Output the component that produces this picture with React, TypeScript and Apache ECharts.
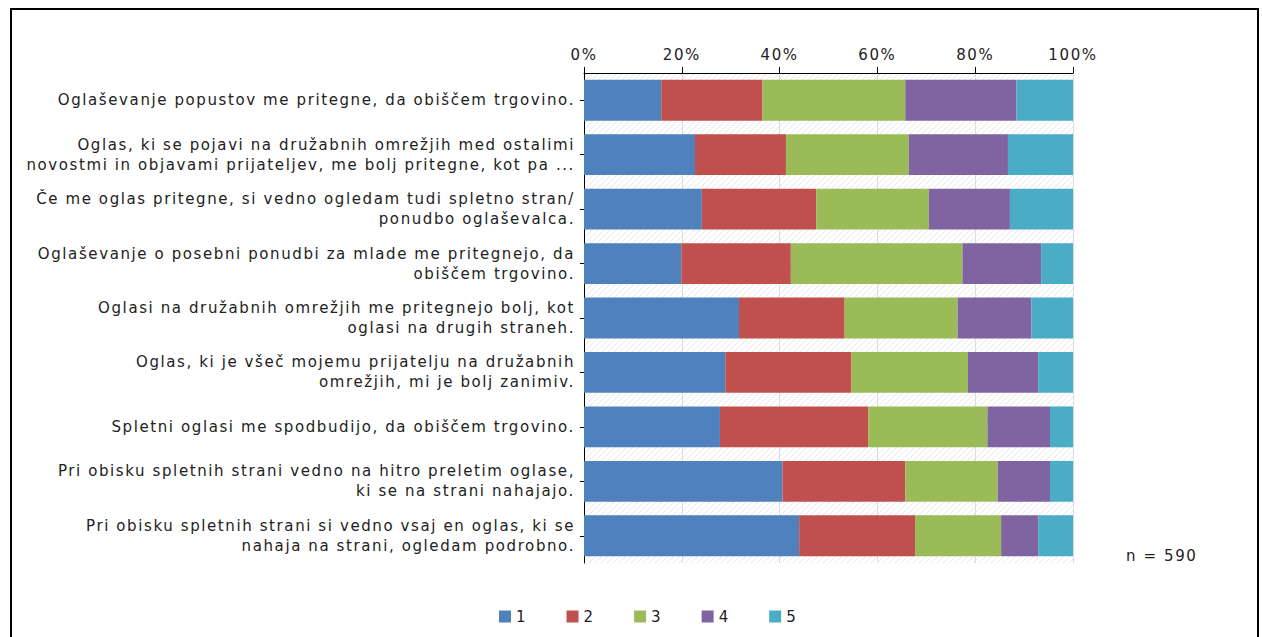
import React, { useEffect, useRef } from "react";
import * as echarts from "echarts";

const categories = [
  "Oglaševanje popustov me pritegne, da obiščem trgovino.",
  "Oglas, ki se pojavi na družabnih omrežjih med ostalimi\nnovostmi in objavami prijateljev, me bolj pritegne, kot pa ...",
  "Če me oglas pritegne, si vedno ogledam tudi spletno stran/\nponudbo oglaševalca.",
  "Oglaševanje o posebni ponudbi za mlade me pritegnejo, da\nobiščem trgovino.",
  "Oglasi na družabnih omrežjih me pritegnejo bolj, kot\noglasi na drugih straneh.",
  "Oglas, ki je všeč mojemu prijatelju na družabnih\nomrežjih, mi je bolj zanimiv.",
  "Spletni oglasi me spodbudijo, da obiščem trgovino.",
  "Pri obisku spletnih strani vedno na hitro preletim oglase,\nki se na strani nahajajo.",
  "Pri obisku spletnih strani si vedno vsaj en oglas, ki se\nnahaja na strani, ogledam podrobno.",
];

const seriesNames = ["1", "2", "3", "4", "5"];
const s1 = [15.8, 22.7, 24.1, 19.9, 31.7, 28.9, 27.8, 40.6, 44.0];
const s2 = [20.7, 18.6, 23.4, 22.4, 21.6, 25.8, 30.3, 25.1, 23.7];
const s3 = [29.2, 25.1, 23.0, 35.1, 23.1, 23.8, 24.4, 18.9, 17.6];
const s4 = [22.7, 20.3, 16.6, 16.1, 15.1, 14.4, 12.8, 10.7, 7.6];
const s5 = [11.6, 13.3, 12.9, 6.5, 8.5, 7.1, 4.7, 4.7, 7.1];
const seriesValues = [s1, s2, s3, s4, s5];
const colors = ["#4F81BD", "#C0504D", "#9BBB59", "#8064A2", "#4BACC6"];
const xTicks = { min: 0, max: 100, interval: 20 };
const noteText = "n = 590";

const FONT = "DejaVu Sans";

export default function App() {
  const ref = useRef<HTMLDivElement>(null);
  useEffect(() => {
    if (!ref.current) return;
    const chart = echarts.init(ref.current, undefined, { renderer: "svg" });
    const hatchSvg =
      "<svg xmlns='http://www.w3.org/2000/svg' width='6' height='6'><rect width='6' height='6' fill='#ffffff'/><path d='M-1,1 L1,-1 M0,6 L6,0 M5,7 L7,5' stroke='#e6e6e6' stroke-width='1'/></svg>";
    const hatch = "data:image/svg+xml;charset=utf-8," + encodeURIComponent(hatchSvg);
    chart.setOption({
      animation: false,
      textStyle: { fontFamily: FONT },
      grid: {
        left: 584,
        right: 189,
        top: 73,
        height: 490,
        show: true,
        backgroundColor: { image: hatch, repeat: "repeat" } as any,
        borderColor: "#d0d0d0",
        borderWidth: 0,
      },
      legend: {
        data: seriesNames,
        left: 494,
        top: 604,
        itemWidth: 12,
        itemHeight: 12,
        itemGap: 41,
        icon: "rect",
        textStyle: { fontFamily: FONT, fontSize: 15, color: "#222" },
      },
      xAxis: {
        type: "value",
        position: "top",
        min: xTicks.min,
        max: xTicks.max,
        interval: xTicks.interval,
        axisLine: { show: true, lineStyle: { color: "#000", width: 1 } },
        axisTick: { show: true, length: 6, lineStyle: { color: "#000" } },
        axisLabel: {
          formatter: "{value}%",
          fontFamily: FONT,
          fontSize: 15,
          color: "#222",
          margin: 11,
        },
        splitLine: { show: true, lineStyle: { color: "#dcdcdc", width: 1 } },
      },
      yAxis: {
        type: "category",
        inverse: true,
        data: categories,
        axisLine: { show: true, lineStyle: { color: "#000", width: 1 } },
        axisTick: { show: true, length: 4, alignWithLabel: true, lineStyle: { color: "#000" } },
        axisLabel: {
          fontFamily: FONT,
          fontSize: 15,
          color: "#222",
          lineHeight: 20,
          margin: 9,
          align: "right",
        },
      },
      series: seriesNames.map((name, i) => ({
        name,
        type: "bar",
        stack: "total",
        barWidth: "75%",
        data: seriesValues[i],
        itemStyle: { color: colors[i] },
      })),
      graphic: [
        {
          type: "rect",
          shape: { x: 11, y: 9, width: 1247, height: 640 },
          style: { fill: "none", stroke: "#000", lineWidth: 2 },
          silent: true,
        },
        {
          type: "text",
          x: 1126,
          y: 556,
          style: {
            text: noteText,
            fontFamily: FONT,
            fontSize: 15,
            fill: "#222",
            textVerticalAlign: "middle",
          },
        },
      ],
    });
    return () => chart.dispose();
  }, []);
  return (
    <div
      ref={ref}
      style={{ position: "absolute", left: 0, top: 0, width: 1262, height: 637, letterSpacing: "1.6px" }}
    />
  );
}
